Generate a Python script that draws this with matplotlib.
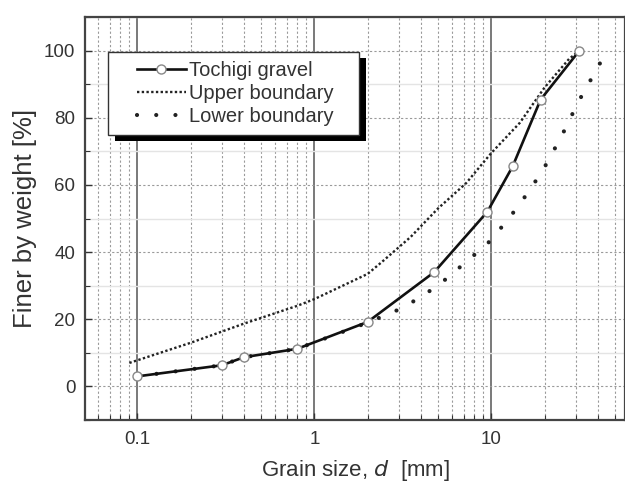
import matplotlib
matplotlib.use("Agg")
import matplotlib.pyplot as plt
from matplotlib.ticker import LogLocator, FixedLocator, FuncFormatter, MultipleLocator, NullFormatter
from matplotlib.patches import Rectangle
from matplotlib.legend_handler import HandlerLine2D

plt.rcParams['font.family'] = ['Liberation Sans', 'DejaVu Sans']

# Data
tochigi_d = [0.1, 0.3, 0.4, 0.8, 2.0, 4.75, 9.5, 13.2, 19.0, 31.5]
tochigi_p = [3.0, 6.3, 8.7, 11.2, 19.2, 34.0, 52.0, 65.5, 85.4, 100.0]

upper_d = [0.09, 0.2, 0.4, 0.8, 1.0, 2.0, 2.4, 3.5, 5.0, 7.2, 10.0, 14.5, 20.0, 27.5, 31.5]
upper_p = [7.0, 13.0, 18.7, 24.0, 26.0, 33.5, 37.0, 44.5, 53.0, 60.5, 69.5, 78.5, 89.0, 97.5, 100.0]

lower_d = [0.1, 0.3, 0.4, 0.8, 2.0, 3.2, 5.0, 7.8, 10.0, 14.3, 19.4, 24.9, 31.1, 39.8, 45.0]
lower_p = [3.0, 6.3, 8.7, 11.2, 19.0, 23.5, 30.0, 38.6, 43.6, 53.8, 64.0, 74.4, 84.8, 94.8, 100.0]

x_ticks = [0.1, 1, 10]
x_labels = ["0.1", "1", "10"]
y_ticks = [0, 20, 40, 60, 80, 100]

fig = plt.figure(figsize=(6.25, 4.82), dpi=100)
ax = fig.add_axes([85/625, 1 - 420/482, 1 - 85/625, (420 - 17)/482])
ax.set_xscale('log')
ax.set_xlim(0.0505, 57)
ax.set_ylim(-10, 110)

txt = '#333333'
# grids
ax.xaxis.set_major_locator(FixedLocator(x_ticks))
ax.xaxis.set_major_formatter(FuncFormatter(lambda v, p: x_labels[x_ticks.index(v)] if v in x_ticks else ''))
ax.xaxis.set_minor_locator(LogLocator(base=10, subs=[2, 3, 4, 5, 6, 7, 8, 9], numticks=20))
ax.xaxis.set_minor_formatter(NullFormatter())
ax.yaxis.set_major_locator(FixedLocator(y_ticks))
ax.yaxis.set_minor_locator(MultipleLocator(10))

ax.grid(True, which='major', axis='x', color='#555555', linestyle='-', linewidth=1.1, zorder=0)
ax.grid(True, which='minor', axis='x', color='#9a9a9a', linestyle=(0, (2, 2)), linewidth=0.8, zorder=0)
ax.grid(True, which='major', axis='y', color='#9a9a9a', linestyle=(0, (2, 2)), linewidth=0.8, zorder=0)
ax.grid(True, which='minor', axis='y', color='#e4e4e4', linestyle='-', linewidth=1.0, zorder=0)
ax.set_axisbelow(True)

ax.tick_params(which='both', direction='in', colors='#333333', labelcolor=txt, labelsize=13.5,
               top=False, right=False)
ax.tick_params(which='major', length=5, width=1.0)
ax.tick_params(which='minor', length=3.5, width=0.8)
ax.tick_params(axis='x', pad=8)
ax.tick_params(axis='y', pad=7)

for s in ['left', 'bottom', 'top', 'right']:
    ax.spines[s].set_color('#444444')
    ax.spines[s].set_linewidth(1.6)

# lines
l_up, = ax.plot(upper_d, upper_p, color='#222222', linestyle=(0, (1.0, 1.0)), linewidth=1.7,
                label='Upper boundary', zorder=3)
l_lo, = ax.plot(lower_d, lower_p, color='#222222', linestyle=(0, (0.01, 4.6)), linewidth=3.0,
                dash_capstyle='round', label='Lower boundary', zorder=3)
l_to, = ax.plot(tochigi_d, tochigi_p, color='#111111', linewidth=1.9, marker='o', markersize=6.5,
                markerfacecolor='white', markeredgecolor='#888888', markeredgewidth=1.0,
                label='Tochigi gravel', zorder=4)

hmap = {h: HandlerLine2D(xpad=1.0) for h in (l_up, l_lo, l_to)}
leg = ax.legend([l_to, l_up, l_lo],
                ['Tochigi gravel', 'Upper boundary', 'Lower boundary   '],
                handler_map=hmap,
                loc='upper left', bbox_to_anchor=((108 - 85) / 540, (420 - 52) / 403),
                borderaxespad=0, frameon=True, fancybox=False, fontsize=14.5,
                handlelength=3.4, handletextpad=0.15, labelspacing=0.2,
                borderpad=0.45)
leg.get_frame().set_edgecolor('#333333')
leg.get_frame().set_linewidth(1.0)
leg.get_frame().set_facecolor('white')
leg.get_frame().set_alpha(1)
for t in leg.get_texts():
    t.set_color(txt)

ax.set_xlabel('Grain size, $\\it{d}$  [mm]', fontsize=16, color=txt, labelpad=7)
ax.set_ylabel('Finer by weight [%]', fontsize=18.5, color=txt, labelpad=5)

fig.canvas.draw()
bb = leg.get_window_extent().transformed(fig.transFigure.inverted())
dx, dy = 7 / 625, 6 / 482
sh = Rectangle((bb.x0 + dx, bb.y0 - dy), bb.width, bb.height, transform=fig.transFigure,
               facecolor='black', edgecolor='none', zorder=4.9, clip_on=False)
ax.add_artist(sh)
ax.set_xlim(0.0505, 57)
ax.set_ylim(-10, 110)

fig.savefig('out.png', dpi=100)
